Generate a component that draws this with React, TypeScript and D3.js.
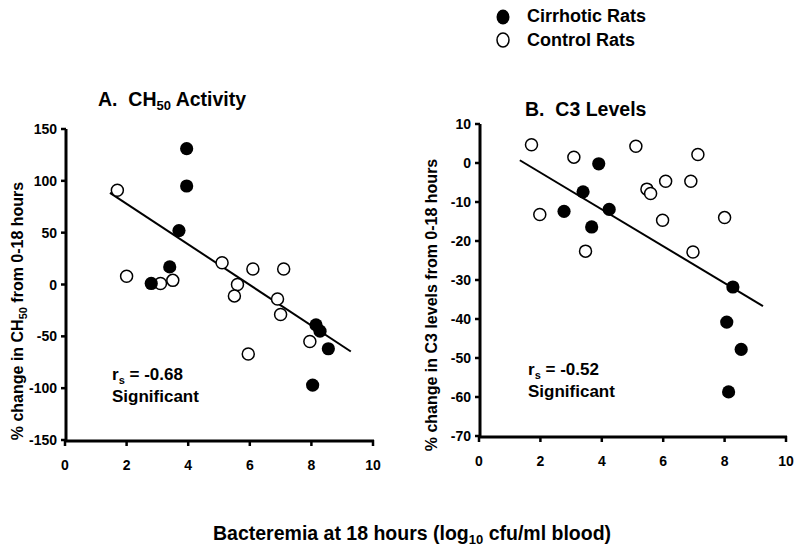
import React from "react";
import * as d3 from "d3";

// ---- Data ----
// Panel A: CH50 activity
const aCirrhoticX = [3.95, 3.95, 3.7, 3.4, 2.8, 8.15, 8.28, 8.55, 8.04];
const aCirrhoticY = [131, 95, 52, 17, 1, -39, -45, -62, -97];
const aControlX = [1.7, 2.0, 3.1, 3.5, 5.1, 6.1, 7.1, 5.6, 5.5, 6.9, 7.0, 7.95, 5.95];
const aControlY = [91, 8, 1, 4, 21, 15, 15, 0, -11, -14, -29, -55, -67];
const aFitX = [1.46, 9.28];
const aFitSlope = -19.57;
const aFitIntercept = 117.0;

// Panel B: C3 levels
const bCirrhoticX = [3.9, 3.39, 2.77, 4.24, 3.67, 8.27, 8.07, 8.54, 8.13];
const bCirrhoticY = [-0.2, -7.4, -12.4, -11.9, -16.4, -31.8, -40.8, -47.8, -58.7];
const bControlX = [1.71, 1.98, 3.09, 3.47, 5.11, 5.47, 5.59, 6.08, 5.98, 6.9, 7.13, 6.97, 8.0];
const bControlY = [4.7, -13.2, 1.5, -22.6, 4.3, -6.7, -7.8, -4.7, -14.7, -4.7, 2.2, -22.8, -14.0];
const bFitX = [1.33, 9.25];
const bFitSlope = -4.72;
const bFitIntercept = 6.98;

const xTicks = [0, 2, 4, 6, 8, 10];
const aYTicks = [150, 100, 50, 0, -50, -100, -150];
const bYTicks = [10, 0, -10, -20, -30, -40, -50, -60, -70];

const FONT = "'Liberation Sans', Arial, Helvetica, sans-serif";

type PanelProps = {
  xRange: [number, number];
  yDomain: [number, number];
  yRange: [number, number];
  yTicks: number[];
  filledX: number[];
  filledY: number[];
  openX: number[];
  openY: number[];
  fitX: number[];
  slope: number;
  intercept: number;
  title: React.ReactNode;
  titlePos: [number, number];
  yLabel: React.ReactNode;
  yLabelPos: [number, number];
  rs: string;
  rsPos: [number, number];
  xLabelDy: number;
};

function Panel(p: PanelProps) {
  const x = d3.scaleLinear().domain([0, 10]).range(p.xRange);
  const y = d3.scaleLinear().domain(p.yDomain).range(p.yRange);
  const x0 = p.xRange[0];
  const yBottom = p.yRange[0];
  const line = d3
    .line<number>()
    .x((d) => x(d))
    .y((d) => y(p.slope * d + p.intercept));
  return (
    <g fontFamily={FONT} fontWeight="bold">
      {/* title */}
      <text x={p.titlePos[0]} y={p.titlePos[1]} fontSize={19.5}>
        {p.title}
      </text>
      {/* y axis */}
      <line x1={x0 + 1} x2={x0 + 1} y1={p.yRange[1]} y2={yBottom + 1.5} stroke="#000" strokeWidth={3} />
      {p.yTicks.map((t) => (
        <g key={"y" + t}>
          <line x1={x0 - 4} x2={x0 + 1} y1={y(t)} y2={y(t)} stroke="#000" strokeWidth={2.5} />
          <text x={x0 - 8} y={y(t)} dy="0.36em" textAnchor="end" fontSize={14}>
            {t}
          </text>
        </g>
      ))}
      {/* x axis */}
      <line x1={x0} x2={p.xRange[1] + 1} y1={yBottom + 1} y2={yBottom + 1} stroke="#000" strokeWidth={3} />
      {xTicks.map((t) => (
        <g key={"x" + t}>
          <line x1={x(t)} x2={x(t)} y1={yBottom} y2={yBottom + 6} stroke="#000" strokeWidth={2.5} />
          <text x={x(t)} y={yBottom + p.xLabelDy} textAnchor="middle" fontSize={14}>
            {t}
          </text>
        </g>
      ))}
      {/* y label */}
      <text
        transform={`translate(${p.yLabelPos[0]},${p.yLabelPos[1]}) rotate(-90)`}
        textAnchor="middle"
        fontSize={16}
      >
        {p.yLabel}
      </text>
      {/* regression line */}
      <path d={line(p.fitX) || ""} stroke="#000" strokeWidth={2} fill="none" />
      {/* open points */}
      {p.openX.map((v, i) => (
        <circle key={"o" + i} cx={x(v)} cy={y(p.openY[i])} r={6} fill="#fff" stroke="#000" strokeWidth={1.5} />
      ))}
      {/* filled points */}
      {p.filledX.map((v, i) => (
        <circle key={"f" + i} cx={x(v)} cy={y(p.filledY[i])} r={6.6} fill="#000" />
      ))}
      {/* annotation */}
      <text x={p.rsPos[0]} y={p.rsPos[1]} fontSize={17}>
        r
        <tspan fontSize={11} dy={4}>s</tspan>
        <tspan dy={-4}> = {p.rs}</tspan>
      </text>
      <text x={p.rsPos[0]} y={p.rsPos[1] + 22} fontSize={17}>
        Significant
      </text>
    </g>
  );
}

export default function App() {
  return (
    <svg
      width={800}
      height={559}
      viewBox="0 0 800 559"
      style={{ position: "absolute", left: 0, top: 0, background: "#fff" }}
    >
      <rect x={0} y={0} width={800} height={559} fill="#fff" />
      {/* legend */}
      <g fontFamily={FONT} fontWeight="bold" fontSize={18}>
        <ellipse cx={503} cy={17} rx={6.5} ry={7.5} fill="#000" />
        <text x={527} y={22}>Cirrhotic Rats</text>
        <ellipse cx={503} cy={40} rx={6} ry={7} fill="#fff" stroke="#000" strokeWidth={1.5} />
        <text x={527} y={46}>Control Rats</text>
      </g>
      <Panel
        xRange={[65, 373]}
        yDomain={[-150, 150]}
        yRange={[440, 129]}
        yTicks={aYTicks}
        filledX={aCirrhoticX}
        filledY={aCirrhoticY}
        openX={aControlX}
        openY={aControlY}
        fitX={aFitX}
        slope={aFitSlope}
        intercept={aFitIntercept}
        title={
          <>
            A.{"\u00a0\u00a0"}CH<tspan fontSize={13} dy={4}>50</tspan>
            <tspan dy={-4}> Activity</tspan>
          </>
        }
        titlePos={[98, 106]}
        yLabel={
          <>
            % change in CH<tspan fontSize={11} dy={4}>50</tspan>
            <tspan dy={-4}> from 0-18 hours</tspan>
          </>
        }
        yLabelPos={[23, 311]}
        rs="-0.68"
        rsPos={[112, 380]}
        xLabelDy={30}
      />
      <Panel
        xRange={[479, 786]}
        yDomain={[-70, 10]}
        yRange={[436, 124]}
        yTicks={bYTicks}
        filledX={bCirrhoticX}
        filledY={bCirrhoticY}
        openX={bControlX}
        openY={bControlY}
        fitX={bFitX}
        slope={bFitSlope}
        intercept={bFitIntercept}
        title={<>B.{"\u00a0\u00a0"}C3 Levels</>}
        titlePos={[525, 116]}
        yLabel={<>% change in C3 levels from 0-18 hours</>}
        yLabelPos={[437, 305]}
        rs="-0.52"
        rsPos={[528, 375]}
        xLabelDy={30}
      />
      {/* x axis label */}
      <text x={213} y={540} fontFamily={FONT} fontWeight="bold" fontSize={19.5}>
        Bacteremia at 18 hours (log<tspan fontSize={13} dy={4}>10</tspan>
        <tspan dy={-4}> cfu/ml blood)</tspan>
      </text>
    </svg>
  );
}
